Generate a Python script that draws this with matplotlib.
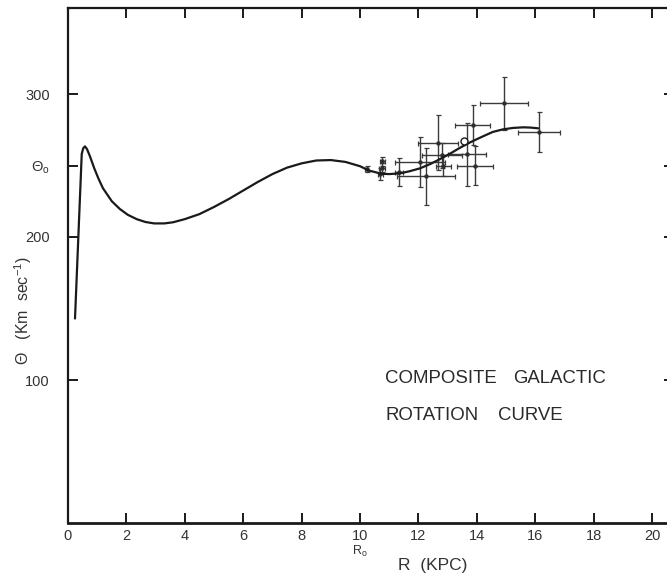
import matplotlib
matplotlib.use("Agg")
import matplotlib.pyplot as plt

plt.rcParams['font.family'] = ['Liberation Sans', 'DejaVu Sans']
plt.rcParams['mathtext.fontset'] = 'custom'
plt.rcParams['mathtext.rm'] = 'Liberation Sans'
plt.rcParams['mathtext.it'] = 'Liberation Sans:italic'

# ---- data ----
curve_r = [0.24, 0.47, 0.52, 0.58, 0.65, 0.75, 0.9, 1.05, 1.2, 1.5, 1.78, 2.05, 2.35,
           2.65, 2.95, 3.3, 3.6, 4.0, 4.5, 5.0, 5.5, 6.0, 6.5, 7.0, 7.5, 8.0, 8.5,
           9.0, 9.5, 10.0, 10.3, 10.74, 11.0, 11.37, 11.7, 12.05, 12.4, 12.74, 13.1,
           13.43, 13.8, 14.22, 14.55, 14.9, 15.25, 15.6, 15.85, 16.1]
curve_v = [143, 258, 262, 263.4, 261.5, 256.5, 248, 240.5, 234, 225, 219.5, 215.5, 212.5,
           210.5, 209.5, 209.5, 210.3, 212.5, 216, 221, 226.5, 232.5, 238.5, 244, 248.5,
           251.5, 253.5, 253.8, 252.5, 249.5, 246.5, 244.2, 244, 244.5, 246, 248, 251,
           254.5, 258.5, 262.5, 266.5, 270.5, 273.5, 275.3, 276.3, 276.7, 276.5, 276]

pts_r = [10.23, 10.70, 10.74, 10.76, 11.33, 12.05, 12.26, 12.66, 12.80, 12.85,
         13.65, 13.94, 13.86, 14.93, 16.13]
pts_v = [247.5, 244.0, 248.5, 253.0, 245.5, 252.5, 242.5, 266.0, 257.0, 250.0,
         258.0, 250.0, 278.3, 293.5, 273.6]
pts_dr = [0.05, 0.10, 0.10, 0.08, 0.15, 0.85, 1.00, 0.68, 0.68, 0.25,
          0.65, 0.62, 0.60, 0.81, 0.71]
pts_dv = [2.0, 4.0, 3.0, 3.0, 9.5, 17.5, 20.0, 19.0, 9.0, 7.0,
          22.0, 13.4, 14.0, 18.6, 14.0]

circ_r = [13.56]
circ_v = [267.4]

x_ticks = [0, 2, 4, 6, 8, 10, 12, 14, 16, 18, 20]
x_ticklabels = ['0', '2', '4', '6', '8', '10', '12', '14', '16', '18', '20']
y_ticks = [100, 200, 250, 300]
y_ticklabels = ['100', '200', r'$\Theta_{\mathrm{o}}$', '300']

ink = '#1a1a1a'
txt = '#333333'

fig = plt.figure(figsize=(6.67, 5.73), dpi=100)
ax = fig.add_axes([68 / 667, 50 / 573, (674 - 68) / 667, (523 - 8.2) / 573])
ax.set_xlim(0, 20.75)
ax.set_ylim(0, 360)

ax.plot(curve_r, curve_v, color=ink, lw=1.6, solid_capstyle='round', zorder=3)
ax.errorbar(pts_r, pts_v, xerr=pts_dr, yerr=pts_dv, fmt='o', ms=2.2,
            color='#2e2e2e', ecolor='#3a3a3a', elinewidth=1.0, capsize=1.8,
            capthick=0.9, zorder=2)
ax.plot(circ_r, circ_v, 'o', ms=5, mfc='white', mec=ink, mew=1.0, zorder=4)

for side in ['left', 'bottom', 'top']:
    ax.spines[side].set_linewidth(1.6)
    ax.spines[side].set_color(ink)
ax.spines['bottom'].set_linewidth(2.0)
ax.spines['right'].set_visible(False)

ax.set_xticks(x_ticks)
ax.set_xticklabels(x_ticklabels)
ax.set_yticks(y_ticks)
ax.set_yticklabels(y_ticklabels)
ax.tick_params(axis='both', direction='in', length=7, width=1.4, color=ink,
               labelsize=10.5, labelcolor=txt, top=True, right=True)
ax.tick_params(axis='x', pad=4)
ax.tick_params(axis='y', pad=13)

ax.text(10, -20, r'$\mathrm{R}_{\mathrm{o}}$', ha='center', va='center',
        fontsize=9, color=txt, clip_on=False)
ax.text(12.5, -29.5, 'R  (KPC)', ha='center', va='center', fontsize=12.5,
        color=txt, clip_on=False)
fig.text(23 / 667, 1 - 311 / 573, '\u0398   (Km  sec$^{-1}$)', rotation=90,
         ha='center', va='center', fontsize=11.5, color=txt)

tkw = dict(fontsize=13.4, color='#2a2a2a', va='baseline', ha='left')
ax.text(10.86, 97.7, 'COMPOSITE', **tkw)
ax.text(15.24, 97.7, 'GALACTIC', **tkw)
ax.text(10.86, 72.0, 'ROTATION', **tkw)
ax.text(14.73, 72.0, 'CURVE', **tkw)

fig.savefig('out.png', dpi=100)
